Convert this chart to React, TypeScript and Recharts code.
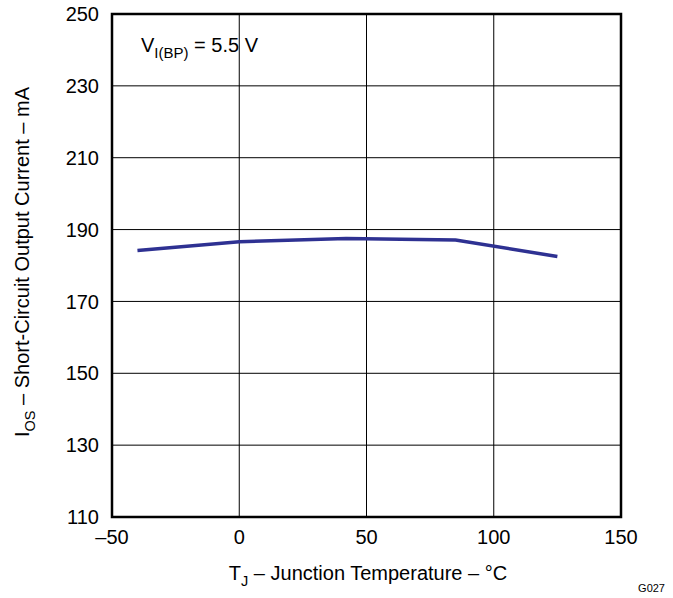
import React from 'react';
import { LineChart, Line, XAxis, YAxis, CartesianGrid, ReferenceArea, Label } from 'recharts';

const temps = [-40, 0, 42, 85, 125];
const currents = [184.2, 186.6, 187.5, 187.1, 182.5];
const xTicks = [-50, 0, 50, 100, 150];
const yTicks = [110, 130, 150, 170, 190, 210, 230, 250];

const data = temps.map((t, i) => ({ t, i: currents[i] }));

const FONT = 'Liberation Sans, Arial, sans-serif';
const FS = 20;
const SUB = 14.5;

const xTickFmt = (v: number) => (v < 0 ? '\u2013' + Math.abs(v) : String(v));

export default function App() {
  return (
    <div style={{ position: 'absolute', left: 0, top: 0, width: 673, height: 598, background: '#fff' }}>
      <LineChart width={673} height={598} data={data} margin={{ top: 14, right: 52, bottom: 51, left: 52 }}>
        <CartesianGrid stroke="#000" strokeWidth={1} horizontalValues={yTicks} verticalValues={xTicks} />
        <XAxis
          dataKey="t"
          type="number"
          domain={[-50, 150]}
          ticks={xTicks}
          tickFormatter={xTickFmt}
          axisLine={false}
          tickLine={false}
          height={30}
          tick={{ fill: '#000', fontSize: FS, fontFamily: FONT }}
          tickMargin={7}
          interval={0}
        >
          <Label
            content={() => (
              <text x={368} y={580} textAnchor="middle" fontFamily={FONT} fontSize={FS} fill="#000">
                T<tspan fontSize={SUB} dy={6}>J</tspan>
                <tspan dy={-6}> {'\u2013'} Junction Temperature {'\u2013'} °C</tspan>
              </text>
            )}
          />
        </XAxis>
        <YAxis
          type="number"
          domain={[110, 250]}
          ticks={yTicks}
          axisLine={false}
          tickLine={false}
          width={60}
          tick={{ fill: '#000', fontSize: FS, fontFamily: FONT }}
          tickMargin={7}
          interval={0}
        >
          <Label
            content={() => (
              <g>
                <text
                  transform="translate(29, 262) rotate(-90)"
                  textAnchor="middle"
                  fontFamily={FONT}
                  fontSize={FS}
                  fill="#000"
                >
                  I<tspan fontSize={SUB} dy={6}>OS</tspan>
                  <tspan dy={-6}> {'\u2013'} Short-Circuit Output Current {'\u2013'} mA</tspan>
                </text>
                <text x={141} y={52} fontFamily={FONT} fontSize={FS} fill="#000">
                  V<tspan fontSize={SUB + 0.5} dy={6}>I(BP)</tspan>
                  <tspan dy={-6}> = 5.5 V</tspan>
                </text>
                <text x={665} y={592} textAnchor="end" fontFamily={FONT} fontSize={11} fill="#000">
                  G027
                </text>
              </g>
            )}
          />
        </YAxis>
        <ReferenceArea
          x1={-50}
          x2={150}
          y1={110}
          y2={250}
          fill="none"
          fillOpacity={0}
          stroke="#000"
          strokeWidth={2.5}
          ifOverflow="visible"
        />
        <Line
          dataKey="i"
          stroke="#2e3192"
          strokeWidth={3.5}
          dot={false}
          isAnimationActive={false}
          type="linear"
        />
      </LineChart>
    </div>
  );
}
